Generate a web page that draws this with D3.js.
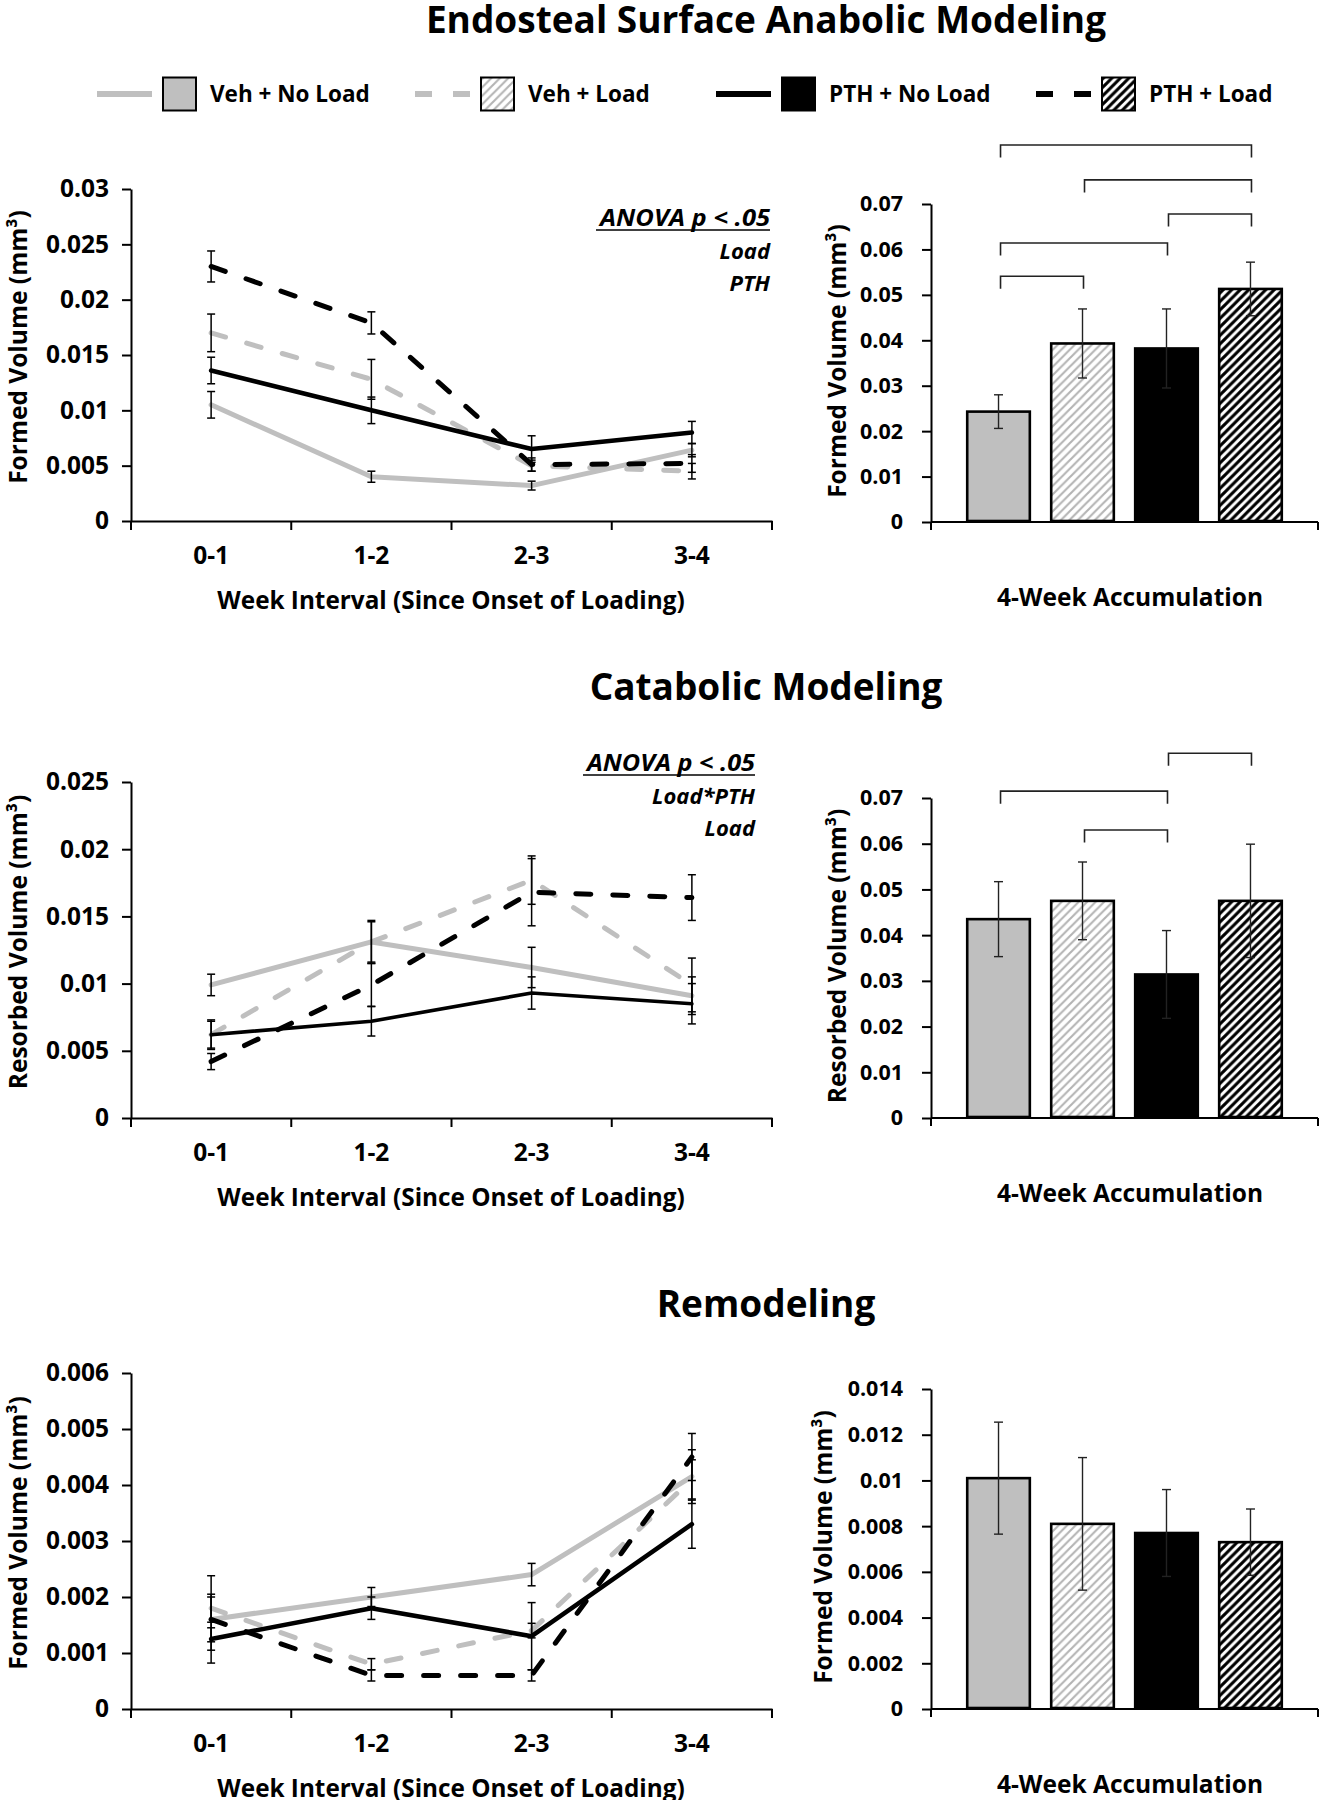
<!DOCTYPE html>
<html><head><meta charset="utf-8">
<script src="https://cdn.jsdelivr.net/npm/d3@7"></script>
<style>
body{margin:0;background:#fff}
svg{display:block}
text{font-family:"Open Sans",sans-serif;font-weight:700;fill:#000}
</style></head><body>
<svg id="c" width="1321" height="1800"></svg>
<script>
// ---------- data ----------
const groups = ["Veh + No Load", "Veh + Load", "PTH + No Load", "PTH + Load"];
const weeks = ["0-1", "1-2", "2-3", "3-4"];
const sectionTitles = ["Endosteal Surface Anabolic Modeling", "Catabolic Modeling", "Remodeling"];

// Anabolic modeling – weekly formed volume (mm^3)
const anaVehNoLoad = [0.0105, 0.0040, 0.0032, 0.0064];
const anaVehNoLoadErr = [0.0012, 0.0005, 0.0004, 0.0006];
const anaVehLoad = [0.0170, 0.0128, 0.0050, 0.0045];
const anaVehLoadErr = [0.0017, 0.0018, 0.0005, 0.0007];
const anaPthNoLoad = [0.0136, 0.0100, 0.0065, 0.0080];
const anaPthNoLoadErr = [0.0012, 0.0012, 0.0012, 0.0010];
const anaPthLoad = [0.0230, 0.0179, 0.0051, 0.0052];
const anaPthLoadErr = [0.0014, 0.0010, 0.0006, 0.0008];
const anaTicks = [0, 0.005, 0.01, 0.015, 0.02, 0.025, 0.03];
// Anabolic – 4-week accumulation
const anaTotal = [0.0243, 0.0393, 0.0382, 0.0513];
const anaTotalErr = [0.0037, 0.0076, 0.0087, 0.0059];
const anaBarTicks = [0, 0.01, 0.02, 0.03, 0.04, 0.05, 0.06, 0.07];
const anaBrackets = [[0, 3, 0.0830], [1, 3, 0.0753], [2, 3, 0.0678], [0, 2, 0.0614], [0, 1, 0.0541]];
const anaAnova = ["ANOVA p < .05", "Load", "PTH"];

// Catabolic modeling – weekly resorbed volume
const catVehNoLoad = [0.0099, 0.0131, 0.0112, 0.0091];
const catVehNoLoadErr = [0.0008, 0.0015, 0.0015, 0.0014];
const catVehLoad = [0.0062, 0.0131, 0.0177, 0.0099];
const catVehLoadErr = [0.0011, 0.0016, 0.0018, 0.0020];
const catPthNoLoad = [0.0062, 0.0072, 0.0093, 0.0085];
const catPthNoLoadErr = [0.0010, 0.0011, 0.0012, 0.0015];
const catPthLoad = [0.0042, 0.0099, 0.0168, 0.0164];
const catPthLoadErr = [0.0006, 0.0016, 0.0025, 0.0017];
const catTicks = [0, 0.005, 0.01, 0.015, 0.02, 0.025];
const catTotal = [0.0435, 0.0475, 0.0314, 0.0475];
const catTotalErr = [0.0082, 0.0085, 0.0096, 0.0124];
const catBarTicks = [0, 0.01, 0.02, 0.03, 0.04, 0.05, 0.06, 0.07];
const catBrackets = [[2, 3, 0.0798], [0, 2, 0.0715], [1, 2, 0.0630]];
const catAnova = ["ANOVA p < .05", "Load*PTH", "Load"];

// Remodeling – weekly formed volume
const remVehNoLoad = [0.0016, 0.0020, 0.0024, 0.00415];
const remVehNoLoadErr = [0.0004, 0.00017, 0.0002, 0.00048];
const remVehLoad = [0.0018, 0.0008, 0.0014, 0.0041];
const remVehLoadErr = [0.00025, 0.0001, 0.00013, 0.00035];
const remPthNoLoad = [0.00125, 0.0018, 0.0013, 0.0033];
const remPthNoLoadErr = [0.0002, 0.0002, 0.0006, 0.00043];
const remPthLoad = [0.0016, 0.0006, 0.0006, 0.0045];
const remPthLoadErr = [0.00078, 0.0001, 0.0001, 0.00042];
const remTicks = [0, 0.001, 0.002, 0.003, 0.004, 0.005, 0.006];
const remTotal = [0.0101, 0.0081, 0.0077, 0.0073];
const remTotalErr = [0.00245, 0.0029, 0.0019, 0.00145];
const remBarTicks = [0, 0.002, 0.004, 0.006, 0.008, 0.01, 0.012, 0.014];

// ---------- styles ----------
const lineColor = ["#bfbfbf", "#bfbfbf", "#000", "#000"];
const lineDash = [null, "15,22", null, "15,22"];
const lineWidth = [5, 5, 4.6, 5];
const barFill = ["#bfbfbf", "url(#hatchGray)", "#000", "url(#hatchBlack)"];

const svg = d3.select("#c");
const defs = svg.append("defs");
function hatch(id, color, w) {
  const p = defs.append("pattern").attr("id", id).attr("patternUnits", "userSpaceOnUse")
    .attr("width", 8.5).attr("height", 8.5);
  p.append("rect").attr("width", 8.5).attr("height", 8.5).attr("fill", "#fff");
  p.append("path").attr("d", "M-2,10.5 L10.5,-2 M-2,2 L2,-2 M6.5,10.5 L10.5,6.5")
    .attr("stroke", color).attr("stroke-width", w);
}
hatch("hatchGray", "#b4b4b4", 2.1);
hatch("hatchBlack", "#000", 3.1);

// ---------- titles ----------
const titleY = [33, 700, 1317];
sectionTitles.forEach((t, i) => {
  svg.append("text").attr("x", 766).attr("y", titleY[i]).attr("text-anchor", "middle")
    .attr("font-size", 37).text(t);
});

// ---------- legend ----------
const legendX = [97, 415, 716, 1036];
const lg = svg.append("g");
groups.forEach((g, i) => {
  const x0 = legendX[i];
  lg.append("line").attr("x1", x0).attr("x2", x0 + 55).attr("y1", 94).attr("y2", 94)
    .attr("stroke", lineColor[i]).attr("stroke-width", 6)
    .attr("stroke-dasharray", lineDash[i] ? "17,21" : null);
  lg.append("rect").attr("x", x0 + 66).attr("y", 77.5).attr("width", 33).attr("height", 33)
    .attr("fill", barFill[i]).attr("stroke", "#000").attr("stroke-width", 2);
  lg.append("text").attr("x", x0 + 113).attr("y", 102).attr("font-size", 22.5).text(g);
});

// ---------- line panels ----------
function linePanel(cfg) {
  const g = svg.append("g");
  const x = d3.scaleBand(weeks, [131, 772]);
  const y = d3.scaleLinear([0, cfg.max], [cfg.bottom, cfg.top]);
  const ya = g.append("g").attr("transform", "translate(131,0)")
    .call(d3.axisLeft(y).tickValues(cfg.ticks).tickFormat(String).tickSize(9).tickSizeOuter(0).tickPadding(13));
  ya.selectAll("text").attr("font-size", 24.5).attr("font-family", "Open Sans").attr("font-weight", 700).attr("fill", "#000");
  ya.selectAll("line,path").attr("stroke", "#000").attr("stroke-width", 2);
  const xa = g.append("g").attr("transform", `translate(0,${cfg.bottom})`)
    .call(d3.axisBottom(x).tickSize(0).tickPadding(26));
  xa.selectAll("text").attr("font-size", 24.5).attr("font-family", "Open Sans").attr("font-weight", 700).attr("fill", "#000");
  xa.select("path").attr("stroke", "#000").attr("stroke-width", 2);
  const bounds = weeks.map(w => x(w)).concat([x(weeks[3]) + x.bandwidth()]);
  g.selectAll(".bt").data(bounds).join("line")
    .attr("x1", d => d).attr("x2", d => d).attr("y1", cfg.bottom).attr("y2", cfg.bottom + 9)
    .attr("stroke", "#000").attr("stroke-width", 2);
  const cx = w => x(w) + x.bandwidth() / 2;
  cfg.series.forEach((s, i) => {
    const line = d3.line().x((d, j) => cx(weeks[j])).y(d => y(d));
    g.append("path").attr("d", line(s[0])).attr("fill", "none")
      .attr("stroke", lineColor[i]).attr("stroke-width", cfg.lw ? cfg.lw[i] : lineWidth[i])
      .attr("stroke-dasharray", lineDash[i]).attr("stroke-linecap", "round").attr("stroke-linejoin", "round");
  });
  cfg.series.forEach((s, i) => {
    s[0].forEach((v, j) => {
      const xx = cx(weeks[j]), y1 = y(v + s[1][j]), y2 = y(v - s[1][j]);
      g.append("line").attr("x1", xx).attr("x2", xx).attr("y1", y1).attr("y2", y2).attr("stroke", "#000").attr("stroke-width", 1.5);
      [y1, y2].forEach(yy => g.append("line").attr("x1", xx - 4).attr("x2", xx + 4).attr("y1", yy).attr("y2", yy).attr("stroke", "#000").attr("stroke-width", 1.5));
    });
  });
  g.append("text").attr("transform", `translate(17,${(cfg.top + cfg.bottom) / 2 - 8}) rotate(-90)`)
    .attr("text-anchor", "middle").attr("dominant-baseline", "central").attr("font-size", 24.5).text(cfg.yTitle);
  g.append("text").attr("x", 451).attr("y", cfg.bottom + 88).attr("text-anchor", "middle")
    .attr("font-size", 24.3).text("Week Interval (Since Onset of Loading)");
  cfg.anova.forEach((t, k) => {
    const tx = g.append("text").attr("x", cfg.ax).attr("y", cfg.ay + k * 32.5).attr("text-anchor", "end")
      .attr("font-size", k === 0 ? 24 : 22).attr("font-style", "italic").text(t);
    if (k === 0) {
      tx.attr("textLength", cfg.aw).attr("lengthAdjust", "spacingAndGlyphs");
      g.append("line").attr("x1", cfg.ax - cfg.aw - 4).attr("x2", cfg.ax).attr("y1", cfg.ay + 4).attr("y2", cfg.ay + 4)
        .attr("stroke", "#000").attr("stroke-width", 1.6);
    }
  });
}

// ---------- bar panels ----------
function barPanel(cfg) {
  const g = svg.append("g");
  const x = d3.scaleBand(groups, [931, 1318]).paddingInner(0.226).paddingOuter(0.417);
  const y = d3.scaleLinear([0, cfg.max], [cfg.bottom, cfg.top]);
  const ya = g.append("g").attr("transform", "translate(931,0)")
    .call(d3.axisLeft(y).tickValues(cfg.ticks).tickFormat(String).tickSize(9).tickSizeOuter(0).tickPadding(19));
  ya.selectAll("text").attr("font-size", 21.5).attr("font-family", "Open Sans").attr("font-weight", 700).attr("fill", "#000");
  ya.selectAll("line,path").attr("stroke", "#000").attr("stroke-width", 2);
  g.append("line").attr("x1", 931).attr("x2", 1318).attr("y1", cfg.bottom).attr("y2", cfg.bottom).attr("stroke", "#000").attr("stroke-width", 2);
  [931, 1318].forEach(xx => g.append("line").attr("x1", xx).attr("x2", xx).attr("y1", cfg.bottom).attr("y2", cfg.bottom + 8).attr("stroke", "#000").attr("stroke-width", 2));
  g.selectAll(".bar").data(cfg.vals).join("rect")
    .attr("x", (d, i) => x(groups[i]) + 1.2).attr("width", x.bandwidth() - 2.4)
    .attr("y", d => y(d)).attr("height", d => cfg.bottom - y(d) - 1)
    .attr("fill", (d, i) => barFill[i]).attr("stroke", "#000").attr("stroke-width", 2.6);
  cfg.vals.forEach((v, i) => {
    const xx = x(groups[i]) + x.bandwidth() / 2, y1 = y(v + cfg.errs[i]), y2 = y(v - cfg.errs[i]);
    g.append("line").attr("x1", xx).attr("x2", xx).attr("y1", y1).attr("y2", y2).attr("stroke", "#222").attr("stroke-width", 1.4);
    [y1, y2].forEach(yy => g.append("line").attr("x1", xx - 4.5).attr("x2", xx + 4.5).attr("y1", yy).attr("y2", yy).attr("stroke", "#222").attr("stroke-width", 1.4));
  });
  (cfg.brackets || []).forEach(b => {
    const xa = x(groups[b[0]]) + x.bandwidth() / 2 + 2, xb = x(groups[b[1]]) + x.bandwidth() / 2 + 1, yy = y(b[2]);
    g.append("path").attr("d", `M${xa},${yy + 12.5}V${yy}H${xb}V${yy + 12.5}`).attr("fill", "none")
      .attr("stroke", "#222").attr("stroke-width", 1.6);
  });
  g.append("text").attr("transform", `translate(${cfg.tx},${(cfg.top + cfg.bottom) / 2 - 2}) rotate(-90)`)
    .attr("text-anchor", "middle").attr("dominant-baseline", "central").attr("font-size", 24.5).text(cfg.yTitle);
  g.append("text").attr("x", 1130).attr("y", cfg.bottom + 84).attr("text-anchor", "middle")
    .attr("font-size", 24.5).text("4-Week Accumulation");
}

linePanel({top: 189, bottom: 521, max: 0.03, ticks: anaTicks, yTitle: "Formed Volume (mm³)",
  series: [[anaVehNoLoad, anaVehNoLoadErr], [anaVehLoad, anaVehLoadErr], [anaPthNoLoad, anaPthNoLoadErr], [anaPthLoad, anaPthLoadErr]],
  anova: anaAnova, ax: 770, ay: 226, aw: 170});
barPanel({top: 204, bottom: 522, max: 0.07, ticks: anaBarTicks, vals: anaTotal, errs: anaTotalErr,
  brackets: anaBrackets, yTitle: "Formed Volume (mm³)", tx: 836});

linePanel({top: 782, bottom: 1118, max: 0.025, ticks: catTicks, yTitle: "Resorbed Volume (mm³)",
  series: [[catVehNoLoad, catVehNoLoadErr], [catVehLoad, catVehLoadErr], [catPthNoLoad, catPthNoLoadErr], [catPthLoad, catPthLoadErr]],
  anova: catAnova, ax: 755, ay: 771, aw: 168, lw: [5, 5, 3.6, 5]});
barPanel({top: 798, bottom: 1118, max: 0.07, ticks: catBarTicks, vals: catTotal, errs: catTotalErr,
  brackets: catBrackets, yTitle: "Resorbed Volume (mm³)", tx: 836});

linePanel({top: 1373, bottom: 1709, max: 0.006, ticks: remTicks, yTitle: "Formed Volume (mm³)",
  series: [[remVehNoLoad, remVehNoLoadErr], [remVehLoad, remVehLoadErr], [remPthNoLoad, remPthNoLoadErr], [remPthLoad, remPthLoadErr]],
  anova: [], ax: 0, ay: 0, aw: 0});
barPanel({top: 1389, bottom: 1709, max: 0.014, ticks: remBarTicks, vals: remTotal, errs: remTotalErr,
  brackets: [], yTitle: "Formed Volume (mm³)", tx: 822});
</script>
</body></html>
